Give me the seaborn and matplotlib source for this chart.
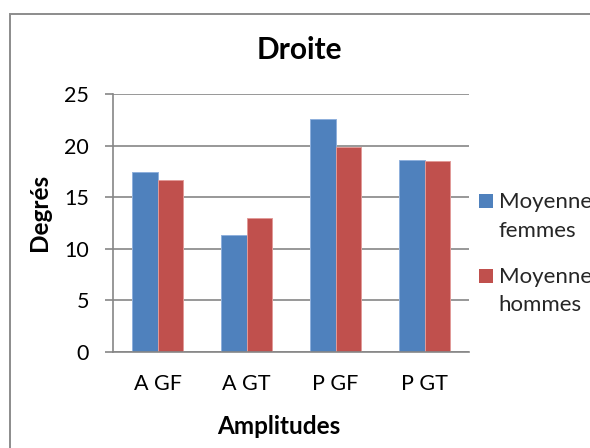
import matplotlib
matplotlib.use("Agg")
import matplotlib.pyplot as plt
from matplotlib.patches import Rectangle
from matplotlib.legend_handler import HandlerPatch
import seaborn as sns
import pandas as pd

# Mean amplitudes (degrees), right side
amplitudes = ["A GF", "A GT", "P GF", "P GT"]
moyenne_femmes = [17.4, 11.3, 22.6, 18.6]
moyenne_hommes = [16.7, 13.0, 19.9, 18.5]
series = ["Moyenne\nfemmes", "Moyenne\nhommes"]
y_ticks = [0, 5, 10, 15, 20, 25]

df = pd.DataFrame({
    "Amplitudes": amplitudes * 2,
    "Degrés": moyenne_femmes + moyenne_hommes,
    "Série": [series[0]] * len(amplitudes) + [series[1]] * len(amplitudes),
})

sns.set_theme(style="white")
plt.rcParams["font.family"] = ["Lato", "DejaVu Sans"]

GRID = "#868686"
W, H = 590, 448

fig = plt.figure(figsize=(W / 100, H / 100), dpi=100)
ax = fig.add_axes([113 / W, 1 - 352 / H, 356 / W, 258 / H])

sns.barplot(
    data=df, x="Amplitudes", y="Degrés", hue="Série",
    palette=["#4F81BD", "#C0504D"], saturation=1, width=0.575,
    errorbar=None, legend=False, ax=ax,
)
edge_colors = ["#8fb0dc", "#e29a98"]
for cont, ec in zip(ax.containers, edge_colors):
    for bar in cont:
        bar.set_edgecolor(ec)
        bar.set_linewidth(0.7)

ax.set_ylim(0, 25)
ax.set_yticks(y_ticks)
ax.set_xlim(-0.5, len(amplitudes) - 0.5)
ax.grid(axis="y", color=GRID, linewidth=1.2)
ax.set_axisbelow(True)
for side in ("top", "right"):
    ax.spines[side].set_visible(False)
for side in ("left", "bottom"):
    ax.spines[side].set_color(GRID)
    ax.spines[side].set_linewidth(1.2)

ax.tick_params(axis="y", direction="out", length=5.8, width=1.2, color=GRID,
               pad=11.5, labelsize=15.5, labelcolor="black", left=True)
ax.tick_params(axis="x", length=0, pad=16, labelsize=15.5, labelcolor="black")

ax.set_xlabel("Amplitudes", fontsize=17.5, fontweight="bold", color="black")
ax.set_ylabel("Degrés", fontsize=17.5, fontweight="bold", color="black")
ax.xaxis.set_label_coords((279 - 113) / 356, (352 - 415) / 258)
ax.yaxis.set_label_coords((51 - 113) / 356, (352 - 212) / 258)

ax.set_title("Droite", fontsize=21.5, fontweight="bold", color="black",
             x=(299 - 113) / 356, y=(352 - 59) / 258, pad=0)


def top_square(legend, orig_handle, xdescent, ydescent, width, height, fontsize):
    side = width
    shift = 0.74 * fontsize
    return Rectangle((-xdescent, -ydescent + shift), side, side)


handles = [cont.patches[0] for cont in ax.containers]
leg = ax.legend(
    handles, series,
    handler_map={Rectangle: HandlerPatch(patch_func=top_square)},
    loc="upper left", bbox_to_anchor=(479 / W, 1 - 192 / H),
    bbox_transform=fig.transFigure, frameon=False, fontsize=16,
    handlelength=0.63, handleheight=0.7, handletextpad=0.26,
    borderpad=0, borderaxespad=0, labelspacing=1.15,
)
for t in leg.get_texts():
    t.set_linespacing(1.56)
for h in leg.legend_handles:
    h.set_linewidth(0)

# chart area frame
fig.add_artist(Rectangle((9.5 / W, -0.1), 2, (1 - 14 / H) + 0.1,
                         transform=fig.transFigure, fill=False,
                         edgecolor="#8c8c8c", linewidth=1.4))

fig.savefig("out.png", dpi=100)
